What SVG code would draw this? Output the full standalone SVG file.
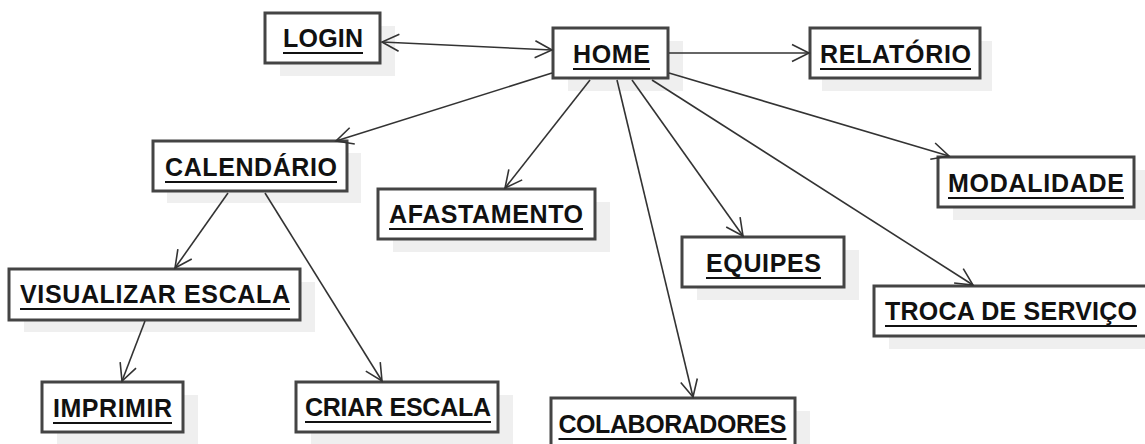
<svg xmlns="http://www.w3.org/2000/svg" width="1145" height="444" viewBox="0 0 1145 444">
<style>
.shadow{fill:#efefef;stroke:none}
.box{fill:#ffffff;stroke:#444444;stroke-width:3}
.lbl{font-family:"Liberation Sans",Arial,sans-serif;font-weight:bold;font-size:25px;fill:#111111;text-anchor:middle}
.ul{stroke:#111111;stroke-width:2}
.edge{fill:none;stroke:#333333;stroke-width:1.6}
</style>
<defs>
<marker id="arr" markerUnits="userSpaceOnUse" markerWidth="20" markerHeight="20" refX="17" refY="8.5" orient="auto" overflow="visible">
<path d="M0,0 L17,8.5 L0,17" fill="none" stroke="#333333" stroke-width="1.6"/>
</marker>
<marker id="arrS" markerUnits="userSpaceOnUse" markerWidth="20" markerHeight="20" refX="0" refY="8.5" orient="auto" overflow="visible">
<path d="M17,0 L0,8.5 L17,17" fill="none" stroke="#333333" stroke-width="1.6"/>
</marker>
</defs>
<rect width="1145" height="444" fill="#ffffff"/>
<g id="login">
<rect class="shadow" x="280" y="26" width="115" height="50"/>
<rect class="box" x="265" y="13" width="115" height="50"/>
<text class="lbl" x="323" y="47" textLength="80" lengthAdjust="spacing">LOGIN</text>
<line class="ul" x1="283" y1="53" x2="363" y2="53"/>
</g>
<g id="home">
<rect class="shadow" x="568" y="41" width="115" height="50"/>
<rect class="box" x="553" y="28" width="115" height="50"/>
<text class="lbl" x="611.5" y="63" textLength="77" lengthAdjust="spacing">HOME</text>
<line class="ul" x1="573" y1="69" x2="650" y2="69"/>
</g>
<g id="relatorio">
<rect class="shadow" x="822" y="41" width="170" height="50"/>
<rect class="box" x="810" y="28" width="170" height="50"/>
<text class="lbl" x="895.5" y="63" textLength="151" lengthAdjust="spacing">RELATÓRIO</text>
<line class="ul" x1="820" y1="69" x2="971" y2="69"/>
</g>
<g id="calendario">
<rect class="shadow" x="167" y="153" width="194" height="50"/>
<rect class="box" x="153" y="141" width="194" height="50"/>
<text class="lbl" x="251" y="176" textLength="172" lengthAdjust="spacing">CALENDÁRIO</text>
<line class="ul" x1="165" y1="182" x2="337" y2="182"/>
</g>
<g id="afastamento">
<rect class="shadow" x="393" y="202" width="217" height="50"/>
<rect class="box" x="378" y="189" width="217" height="50"/>
<text class="lbl" x="486" y="223" textLength="194" lengthAdjust="spacing">AFASTAMENTO</text>
<line class="ul" x1="389" y1="229" x2="583" y2="229"/>
</g>
<g id="modalidade">
<rect class="shadow" x="953" y="170" width="196" height="50"/>
<rect class="box" x="938" y="157" width="196" height="50"/>
<text class="lbl" x="1036" y="192" textLength="176" lengthAdjust="spacing">MODALIDADE</text>
<line class="ul" x1="948" y1="198" x2="1124" y2="198"/>
</g>
<g id="equipes">
<rect class="shadow" x="697" y="250" width="162" height="50"/>
<rect class="box" x="682" y="237" width="162" height="50"/>
<text class="lbl" x="763.5" y="272" textLength="115" lengthAdjust="spacing">EQUIPES</text>
<line class="ul" x1="706" y1="278" x2="821" y2="278"/>
</g>
<g id="troca">
<rect class="shadow" x="889" y="299" width="274" height="50"/>
<rect class="box" x="874" y="286" width="274" height="50"/>
<text class="lbl" x="1011" y="320" textLength="252" lengthAdjust="spacing">TROCA DE SERVIÇO</text>
<line class="ul" x1="885" y1="326" x2="1137" y2="326"/>
</g>
<g id="visualizar">
<rect class="shadow" x="24" y="282" width="291" height="50"/>
<rect class="box" x="9" y="269" width="291" height="51"/>
<text class="lbl" x="155" y="303" textLength="270" lengthAdjust="spacing">VISUALIZAR ESCALA</text>
<line class="ul" x1="20" y1="309" x2="290" y2="309"/>
</g>
<g id="imprimir">
<rect class="shadow" x="57" y="395" width="141" height="50"/>
<rect class="box" x="42" y="382" width="141" height="50"/>
<text class="lbl" x="112.5" y="417" textLength="119" lengthAdjust="spacing">IMPRIMIR</text>
<line class="ul" x1="53" y1="423" x2="172" y2="423"/>
</g>
<g id="criar">
<rect class="shadow" x="311" y="395" width="202" height="50"/>
<rect class="box" x="296" y="382" width="202" height="50"/>
<text class="lbl" x="398" y="416" textLength="186" lengthAdjust="spacing">CRIAR ESCALA</text>
<line class="ul" x1="305" y1="422" x2="491" y2="422"/>
</g>
<g id="colaboradores">
<rect class="shadow" x="566" y="411" width="244" height="50"/>
<rect class="box" x="551" y="398" width="244" height="50"/>
<text class="lbl" x="672.5" y="433" textLength="228" lengthAdjust="spacing">COLABORADORES</text>
<line class="ul" x1="558.5" y1="439" x2="786.5" y2="439"/>
</g>
<g id="connectors">
<line class="edge" x1="382" y1="42" x2="552" y2="50" marker-start="url(#arrS)" marker-end="url(#arr)"/>
<line class="edge" x1="669" y1="53" x2="809" y2="53" marker-end="url(#arr)"/>
<line class="edge" x1="552" y1="73" x2="336" y2="141" marker-end="url(#arr)"/>
<line class="edge" x1="590" y1="80" x2="505" y2="188" marker-end="url(#arr)"/>
<line class="edge" x1="617" y1="80" x2="693" y2="397" marker-end="url(#arr)"/>
<line class="edge" x1="632" y1="80" x2="743" y2="236" marker-end="url(#arr)"/>
<line class="edge" x1="652" y1="80" x2="973" y2="285" marker-end="url(#arr)"/>
<line class="edge" x1="669" y1="73" x2="949" y2="156" marker-end="url(#arr)"/>
<line class="edge" x1="228" y1="193" x2="175" y2="268" marker-end="url(#arr)"/>
<line class="edge" x1="265" y1="193" x2="382" y2="381" marker-end="url(#arr)"/>
<line class="edge" x1="145" y1="321" x2="122" y2="381" marker-end="url(#arr)"/>
</g>
</svg>
